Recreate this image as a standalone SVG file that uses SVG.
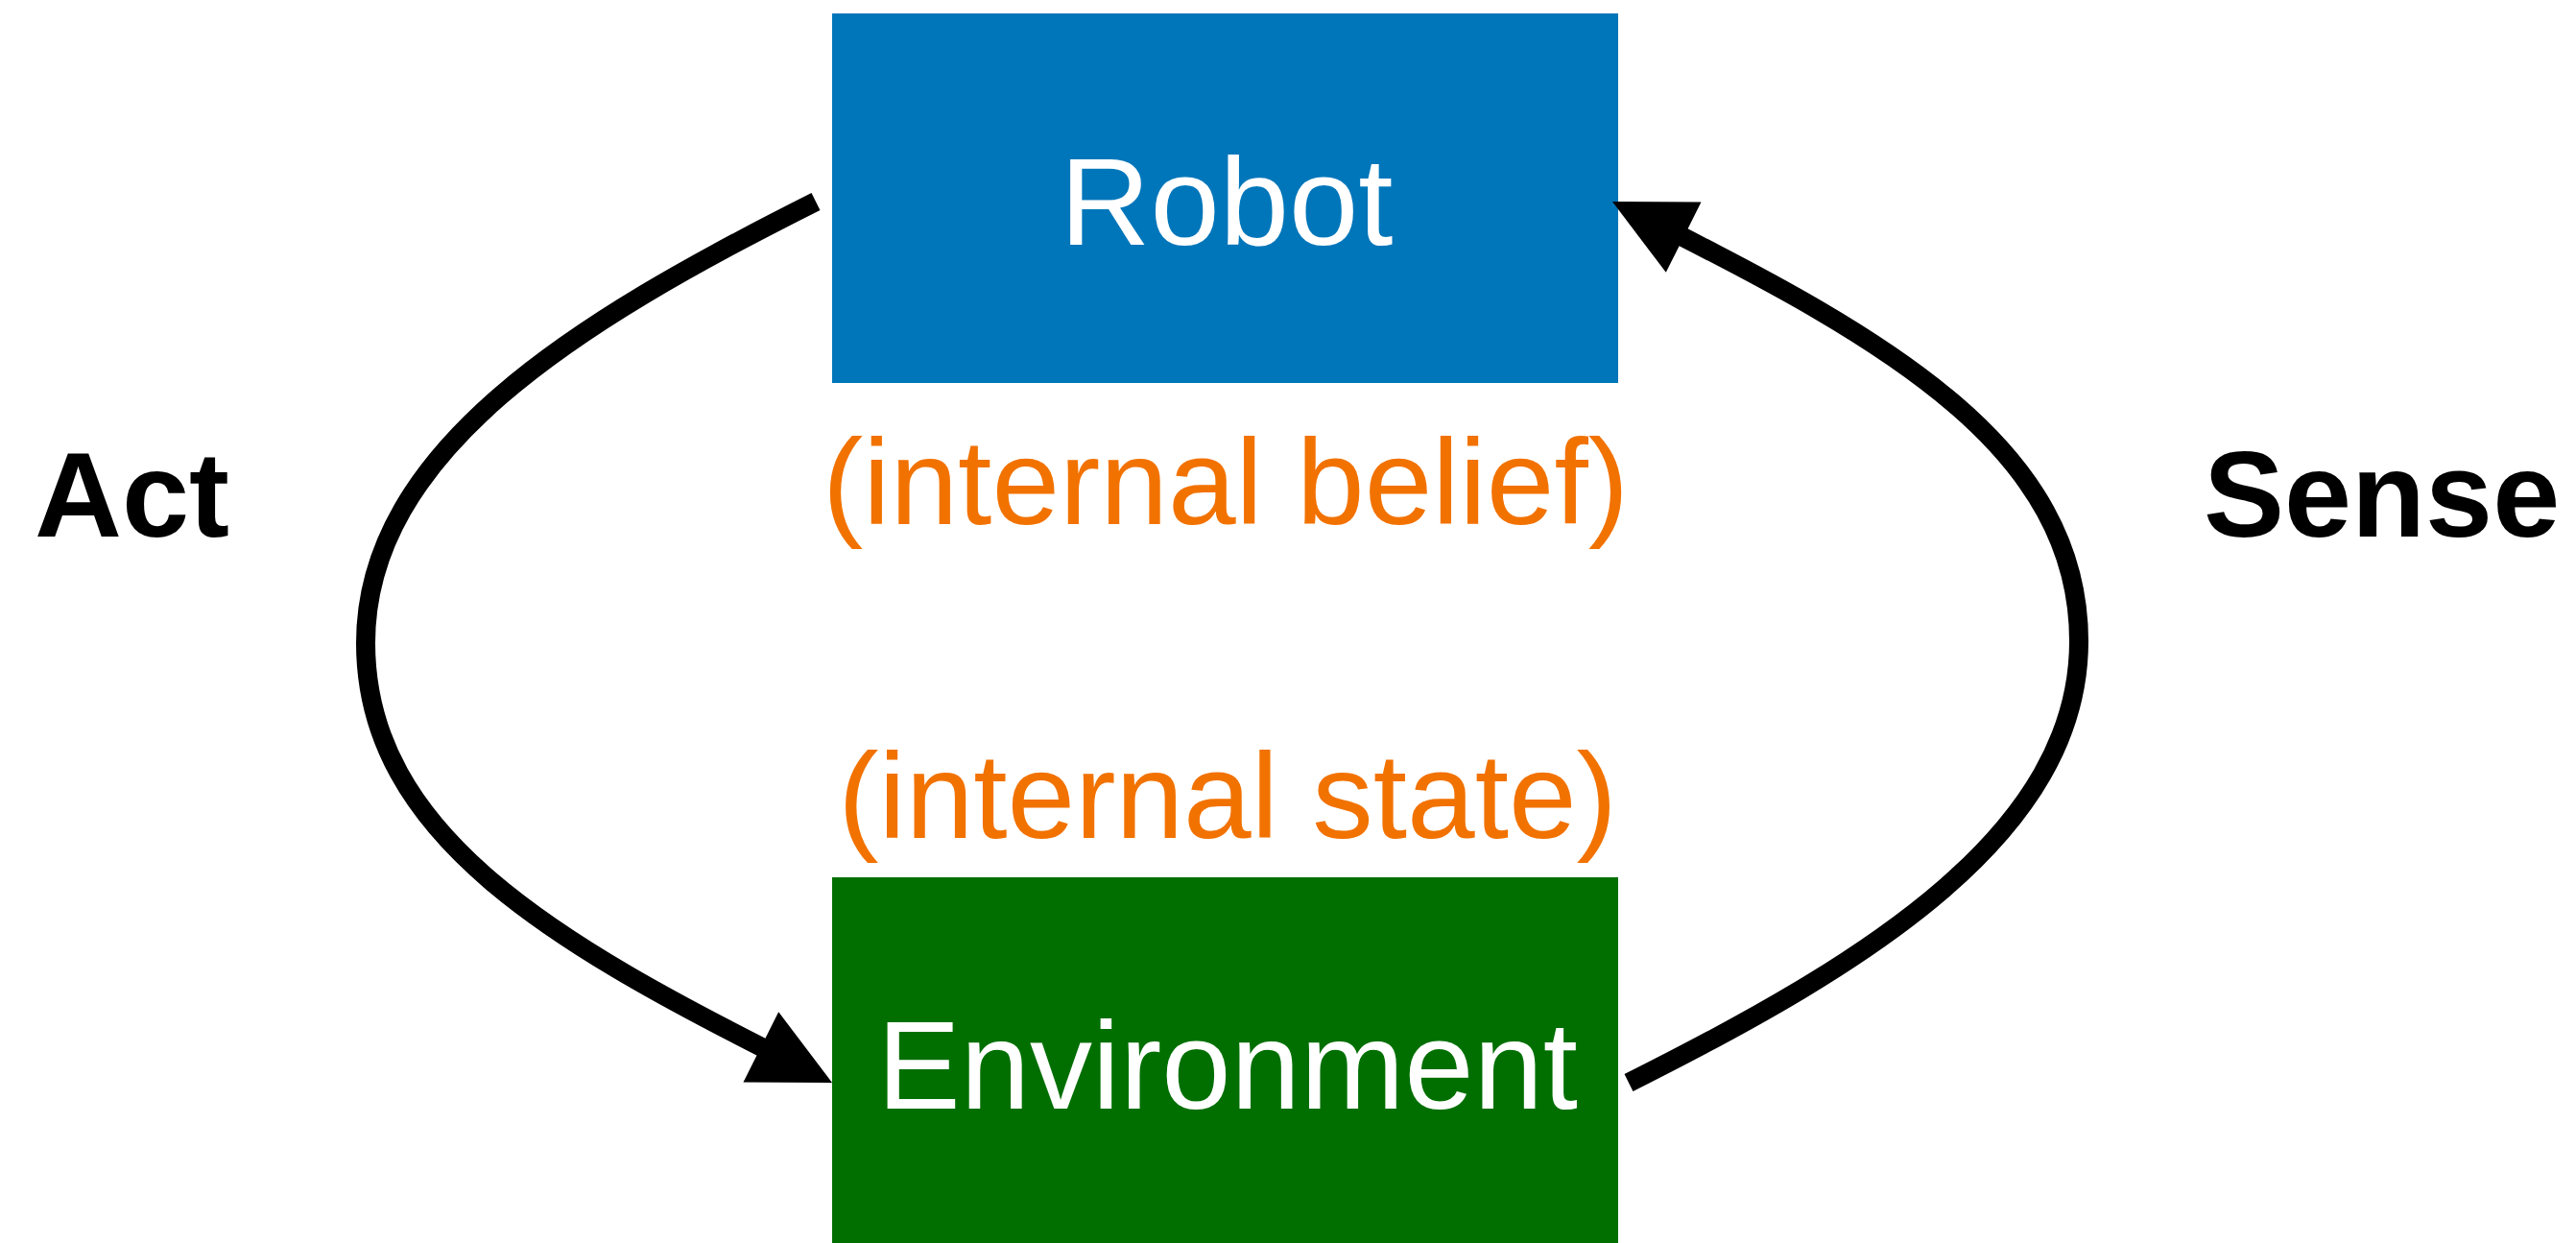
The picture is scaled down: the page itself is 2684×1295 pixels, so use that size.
<svg xmlns="http://www.w3.org/2000/svg" width="2684" height="1295" viewBox="0 0 2684 1295">
  <style>
    .box-label { font-family: "Liberation Sans", Arial, Helvetica, sans-serif; font-size: 130px; fill: #ffffff; text-anchor: middle; }
    .note { font-family: "Liberation Sans", Arial, Helvetica, sans-serif; font-size: 127px; fill: #F27200; text-anchor: middle; }
    .edge-label { font-family: "Liberation Sans", Arial, Helvetica, sans-serif; font-size: 126px; font-weight: bold; fill: #000000; }
    .flow { fill: none; stroke: #000000; stroke-width: 20; stroke-linecap: butt; marker-end: url(#head); }
  </style>
  <defs>
    <!-- filled triangular arrowhead; refX leaves the stroke end hidden inside it -->
    <marker id="head" markerUnits="userSpaceOnUse" markerWidth="90" markerHeight="90" refX="40" refY="0" viewBox="0 -45 90 90" orient="auto" overflow="visible">
      <path d="M0,-41 L83,0 L0,41 Z" fill="#000000"/>
    </marker>
  </defs>

  <rect width="2684" height="1295" fill="#ffffff"/>

  <g id="robot">
    <rect x="867" y="14" width="819" height="385" fill="#0076BA"/>
    <text class="box-label" x="1278" y="255">Robot</text>
  </g>

  <g id="environment">
    <rect x="867" y="914" width="819" height="381" fill="#006F00"/>
    <text class="box-label" x="1279" y="1155">Environment</text>
  </g>

  <g id="belief-note">
    <text class="note" x="1277" y="546">(internal belief)</text>
  </g>

  <g id="state-note">
    <text class="note" x="1279" y="873">(internal state)</text>
  </g>

  <g id="connectors">
    <!-- Act: Robot to Environment, bowing out to the left -->
    <path id="act" class="flow" d="M850,210 C600,335.4 381,470 381,670 C381,870 578.3,983.3 828.6,1108.7"/>
    <!-- Sense: Environment back to Robot, bowing out to the right -->
    <path id="sense" class="flow" d="M1697,1128 C1947,1002.6 2166,868 2166,668 C2166,468 1968.7,354.7 1718.4,229.3"/>
  </g>

  <g id="labels">
    <text class="edge-label" x="36" y="559">Act</text>
    <text class="edge-label" x="2296" y="559">Sense</text>
  </g>
</svg>
